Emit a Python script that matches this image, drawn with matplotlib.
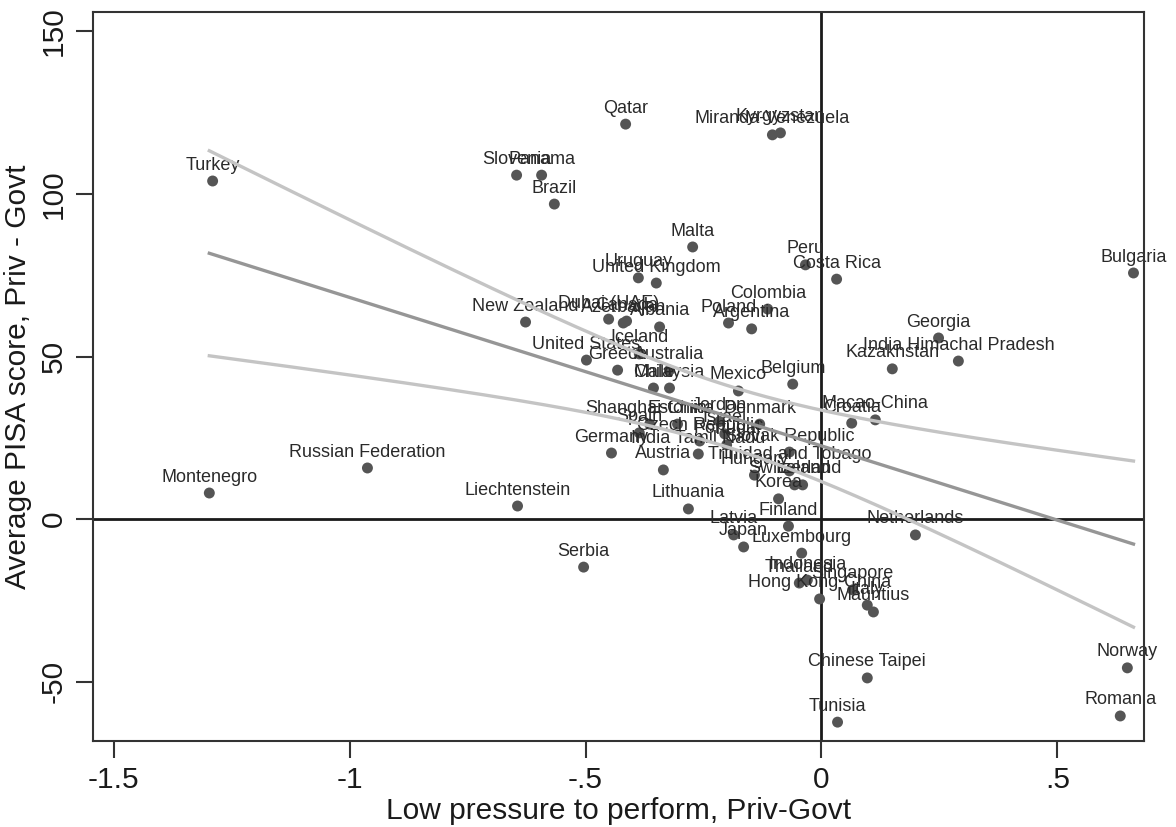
import numpy as np
import matplotlib
matplotlib.use("Agg")
import matplotlib.pyplot as plt

# ---- data ----
countries = [
    "Turkey", "Montenegro", "Russian Federation", "Liechtenstein", "Serbia",
    "Slovenia", "Panama", "Brazil", "Qatar", "Miranda-Venezuela", "Kyrgyzstan",
    "Malta", "Uruguay", "United Kingdom", "Peru", "Costa Rica", "Bulgaria",
    "Georgia", "India Himachal Pradesh", "Kazakhstan", "Netherlands", "Norway",
    "Romania", "Chinese Taipei", "Tunisia", "Croatia", "Macao-China", "Belgium",
    "Mexico", "Colombia", "Poland", "Argentina", "New Zealand", "Dubai (UAE)",
    "Azerbaijan", "Canada", "Albania", "Iceland", "United States", "Greece",
    "Australia", "Chile", "Malaysia", "Shanghai-China", "Spain", "Estonia",
    "Jordan", "Czech Republic", "Israel", "Denmark", "Portugal",
    "Slovak Republic", "India Tamil Nadu", "Germany", "Austria",
    "Trinidad and Tobago", "Hungary", "Switzerland", "Ireland", "Korea",
    "Lithuania", "Finland", "Latvia", "Japan", "Luxembourg", "Thailand",
    "Indonesia", "Singapore", "Hong Kong-China", "Italy", "Mauritius",
]
pressure_diff = [
    -1.290, -1.297, -0.962, -0.644, -0.504,
    -0.646, -0.593, -0.566, -0.415, -0.104, -0.087,
    -0.273, -0.388, -0.350, -0.034, 0.032, 0.661,
    0.248, 0.290, 0.150, 0.199, 0.648,
    0.633, 0.097, 0.034, 0.064, 0.114, -0.061,
    -0.176, -0.114, -0.197, -0.148, -0.627, -0.451,
    -0.420, -0.413, -0.343, -0.386, -0.498, -0.432,
    -0.322, -0.356, -0.322, -0.364, -0.386, -0.305,
    -0.216, -0.258, -0.205, -0.131, -0.201,
    -0.068, -0.261, -0.445, -0.335,
    -0.068, -0.142, -0.057, -0.040, -0.091,
    -0.282, -0.070, -0.186, -0.165, -0.042, -0.047,
    -0.030, 0.066, -0.004, 0.097, 0.110,
]
pisa_diff = [
    104.0, 8.0, 15.7, 4.0, -14.8,
    105.8, 105.8, 96.9, 121.5, 118.2, 118.8,
    83.7, 74.2, 72.6, 78.2, 73.8, 75.7,
    55.7, 48.6, 46.2, -4.9, -45.8,
    -60.6, -48.9, -62.5, 29.5, 30.5, 41.5,
    39.4, 64.6, 60.3, 58.5, 60.6, 61.5,
    60.3, 60.9, 59.1, 50.8, 48.9, 45.8,
    45.8, 40.3, 40.3, 29.2, 26.5, 29.2,
    30.0, 24.0, 26.2, 29.2, 22.8,
    20.6, 20.0, 20.3, 15.1,
    14.8, 13.5, 10.5, 10.5, 6.2,
    3.1, -2.2, -4.9, -8.6, -10.5, -19.7,
    -18.8, -21.8, -24.6, -26.5, -28.6,
]
xticks = [-1.5, -1.0, -0.5, 0.0, 0.5]
xtick_labels = ["-1.5", "-1", "-.5", "0", ".5"]
yticks = [-50, 0, 50, 100, 150]
ytick_labels = ["-50", "0", "50", "100", "150"]

plt.rcParams['font.family'] = ['Liberation Sans', 'DejaVu Sans']

x = np.array(pressure_diff)
y = np.array(pisa_diff)

# linear fit with 95% CI of the mean prediction
n = len(x)
b, a = np.polyfit(x, y, 1)
resid = y - (a + b * x)
s = np.sqrt(np.sum(resid ** 2) / (n - 2))
xbar = x.mean()
sxx = np.sum((x - xbar) ** 2)
tval = 1.996  # t(0.975, ~69 df)
xx = np.linspace(x.min(), x.max(), 200)
yy = a + b * xx
se = s * np.sqrt(1.0 / n + (xx - xbar) ** 2 / sxx)

fig = plt.figure(figsize=(11.76, 8.27), dpi=100)
ax = fig.add_axes([0.0791, 0.104, 0.8937, 0.8815])

ax.axhline(0, color='#1a1a1a', lw=2.0, zorder=1)
ax.axvline(0, color='#1a1a1a', lw=2.0, zorder=1)

ax.scatter(x, y, s=62, color='#555555', edgecolors='none', zorder=2)
for name, xi, yi in zip(countries, x, y):
    ax.annotate(name, (xi, yi), xytext=(0, 11.5), textcoords='offset points',
                ha='center', va='center', fontsize=13, color='#2a2a2a', zorder=2.5)

ax.plot(xx, yy + tval * se, color='#c4c4c4', lw=2.4, zorder=3)
ax.plot(xx, yy - tval * se, color='#c4c4c4', lw=2.4, zorder=3)
ax.plot(xx, yy, color='#969696', lw=2.4, zorder=3)

ax.set_xlim(-1.5434, 0.6833)
ax.set_ylim(-68.3, 156.0)
ax.set_xticks(xticks)
ax.set_xticklabels(xtick_labels)
ax.set_yticks(yticks)
ax.set_yticklabels(ytick_labels, rotation=90, va='center')
ax.tick_params(axis='both', labelsize=21.5, length=12, width=1.5,
               color='#333333', labelcolor='#1a1a1a', pad=6)
for sp in ax.spines.values():
    sp.set_color('#333333')
    sp.set_linewidth(1.5)

ax.set_xlabel("Low pressure to perform, Priv-Govt", fontsize=21.5, color='#1a1a1a', labelpad=2)
ax.set_ylabel("Average PISA score, Priv - Govt", fontsize=21.5, color='#1a1a1a', labelpad=6)

fig.savefig("out.png", dpi=100)
